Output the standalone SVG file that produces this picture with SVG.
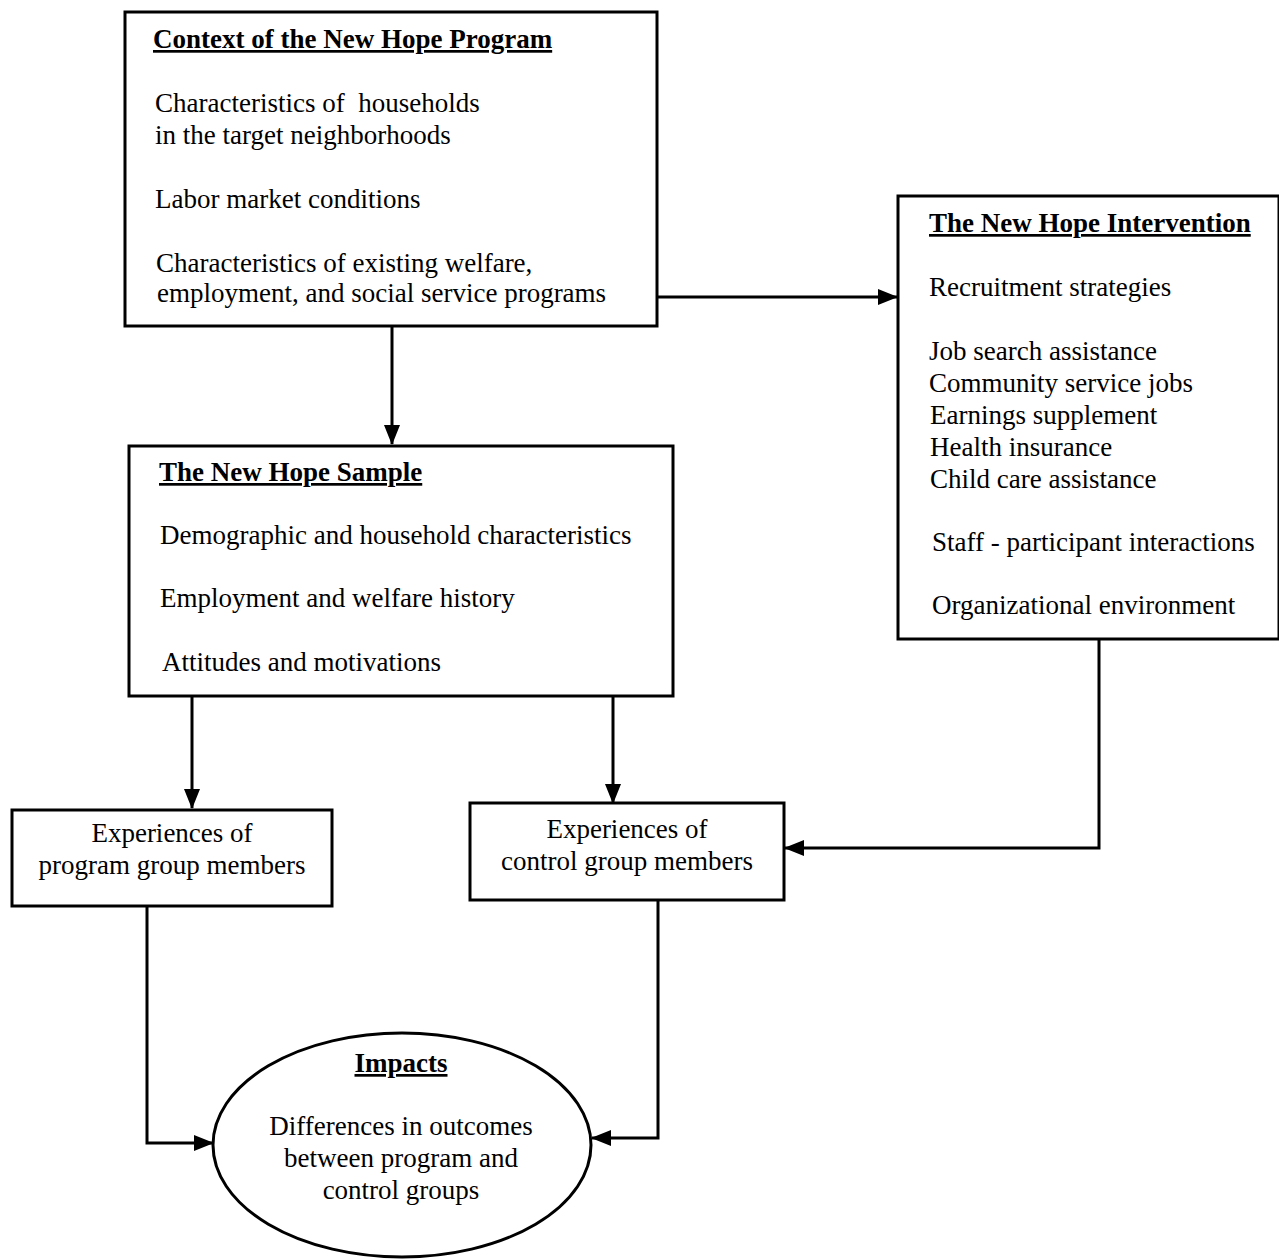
<svg xmlns="http://www.w3.org/2000/svg" width="1279" height="1259" viewBox="0 0 1279 1259">
<style>
.box{fill:#fff;stroke:#000;stroke-width:3}
.t{font-family:"Liberation Serif","Times New Roman",serif;font-size:27px;fill:#000;white-space:pre}
.h{font-weight:bold;text-decoration:underline}
.c{text-anchor:middle}
.ln{fill:none;stroke:#000;stroke-width:3}
</style>
<defs>
<marker id="ah" markerWidth="20" markerHeight="16" refX="19" refY="8" orient="auto" markerUnits="userSpaceOnUse">
<path d="M0,0 L20,8 L0,16 Z" fill="#000"/>
</marker>
</defs>
<rect width="1279" height="1259" fill="#fff"/>
<g id="connectors">
<path class="ln" d="M392,326 V444" marker-end="url(#ah)"/>
<path class="ln" d="M657,297 H897" marker-end="url(#ah)"/>
<path class="ln" d="M192,697 V808" marker-end="url(#ah)"/>
<path class="ln" d="M613,694 V803" marker-end="url(#ah)"/>
<path class="ln" d="M1099,639 V848 H785" marker-end="url(#ah)"/>
<path class="ln" d="M147,906 V1143 H213" marker-end="url(#ah)"/>
<path class="ln" d="M658,900 V1138 H592" marker-end="url(#ah)"/>
</g>
<g id="context">
<rect class="box" x="125" y="12" width="532" height="314"/>
<text class="t h" x="153" y="48">Context of the New Hope Program</text>
<text class="t" x="155" y="112" xml:space="preserve">Characteristics of  households</text>
<text class="t" x="155" y="144">in the target neighborhoods</text>
<text class="t" x="155" y="208">Labor market conditions</text>
<text class="t" x="156" y="272">Characteristics of existing welfare,</text>
<text class="t" x="157" y="302">employment, and social service programs</text>
</g>
<g id="intervention">
<rect class="box" x="898" y="196" width="381" height="443"/>
<text class="t h" x="929" y="232">The New Hope Intervention</text>
<text class="t" x="929" y="296">Recruitment strategies</text>
<text class="t" x="929" y="360">Job search assistance</text>
<text class="t" x="929" y="392">Community service jobs</text>
<text class="t" x="930" y="424">Earnings supplement</text>
<text class="t" x="930" y="456">Health insurance</text>
<text class="t" x="930" y="488">Child care assistance</text>
<text class="t" x="932" y="551">Staff - participant interactions</text>
<text class="t" x="932" y="614">Organizational environment</text>
</g>
<g id="sample">
<rect class="box" x="129" y="446" width="544" height="250"/>
<text class="t h" x="159" y="481">The New Hope Sample</text>
<text class="t" x="160" y="544">Demographic and household characteristics</text>
<text class="t" x="160" y="607">Employment and welfare history</text>
<text class="t" x="162" y="671">Attitudes and motivations</text>
</g>
<g id="program-group">
<rect class="box" x="12" y="810" width="320" height="96"/>
<text class="t c" x="172" y="842">Experiences of</text>
<text class="t c" x="172" y="874">program group members</text>
</g>
<g id="control-group">
<rect class="box" x="470" y="803" width="314" height="97"/>
<text class="t c" x="627" y="838">Experiences of</text>
<text class="t c" x="627" y="870">control group members</text>
</g>
<g id="impacts">
<ellipse class="box" cx="402" cy="1145" rx="189" ry="112"/>
<text class="t h c" x="401" y="1072">Impacts</text>
<text class="t c" x="401" y="1135">Differences in outcomes</text>
<text class="t c" x="401" y="1167">between program and</text>
<text class="t c" x="401" y="1199">control groups</text>
</g>
</svg>
